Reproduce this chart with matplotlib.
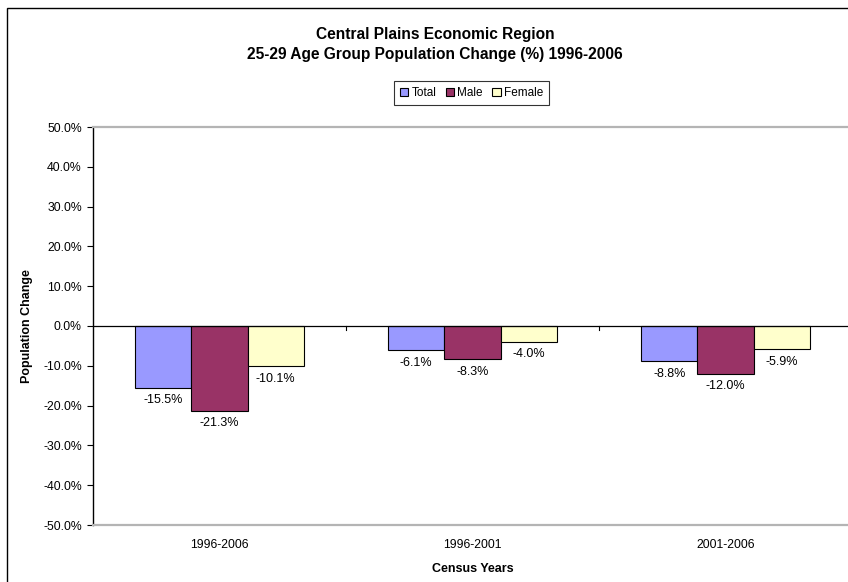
import matplotlib
matplotlib.use("Agg")
import matplotlib.pyplot as plt
import numpy as np
from matplotlib.patches import Rectangle

plt.rcParams['font.family'] = ['Liberation Sans', 'DejaVu Sans']

# data
categories = ['1996-2006', '1996-2001', '2001-2006']
total = [-15.5, -6.1, -8.8]
male = [-21.3, -8.3, -12.0]
female = [-10.1, -4.0, -5.9]
series_names = ['Total', 'Male', 'Female']
series_colors = ['#9999FF', '#993366', '#FFFFCC']
y_ticks = [-50, -40, -30, -20, -10, 0, 10, 20, 30, 40, 50]

W, H = 848, 582
fig = plt.figure(figsize=(W / 100, H / 100), dpi=100)

# chart frame (right / bottom run off the picture)
fig.patches.append(Rectangle((7 / W, -0.1), 1.2, 1.1 - 8 / H, transform=fig.transFigure,
                             fill=False, edgecolor='black', linewidth=1.0))

# plot area, right edge is a bit past the picture
ax = fig.add_axes([93 / W, 57 / H, 759 / W, 398 / H])

x = np.arange(len(categories))
bw = 1 / (3 + 1.5)  # excel gap width 150%
bars = []
for i, (vals, name, col) in enumerate(zip([total, male, female], series_names, series_colors)):
    b = ax.bar(x + (i - 1) * bw, vals, bw, color=col, edgecolor='black', linewidth=0.8, label=name)
    bars.append(b)
    for xi, v in zip(x + (i - 1) * bw, vals):
        ax.annotate(f'{v:.1f}%', (xi, v), xytext=(0, -9), textcoords='offset points',
                    ha='center', va='center', fontsize=9)

ax.set_xlim(-0.5, len(categories) - 0.5)
ax.set_ylim(-50, 50)
ax.set_yticks(y_ticks)
ax.set_yticklabels([f'{t:.1f}%' for t in y_ticks], fontsize=8.8)
ax.tick_params(axis='y', direction='out', length=4, width=0.8, pad=4, color='black')
ax.set_xticks(x)
ax.set_xticklabels(categories, fontsize=8.8)
ax.tick_params(axis='x', length=0, pad=10)

ax.axhline(0, color='black', linewidth=0.9, zorder=3)
# category boundary ticks on the zero line
for b in np.arange(1, len(categories)):
    ax.plot([b - 0.5, b - 0.5], [0, -1.0], color='black', linewidth=0.8)

ax.spines['left'].set_color('black')
ax.spines['left'].set_linewidth(1.0)
for s in ['top', 'bottom', 'right']:
    ax.spines[s].set_color('#b4b4b4')
    ax.spines[s].set_linewidth(1.6)

ax.set_xlabel('Census Years', fontsize=9, fontweight='bold', labelpad=9)
fig.text(27 / W, 1 - 326 / H, 'Population Change', rotation=90, ha='center', va='center',
         fontsize=9, fontweight='bold')

fig.text(435 / W, 1 - 35 / H, 'Central Plains Economic Region', ha='center', va='center',
         fontsize=11.2, fontweight='bold')
fig.text(435 / W, 1 - 55 / H, '25-29 Age Group Population Change (%) 1996-2006', ha='center',
         va='center', fontsize=11.2, fontweight='bold')

leg = fig.legend(handles=bars, labels=series_names, loc='center', bbox_to_anchor=(471.5 / W, 1 - 93 / H),
                 ncol=3, fontsize=8.5, frameon=True, fancybox=False, handlelength=0.7, handleheight=0.7,
                 handletextpad=0.3, columnspacing=0.8, borderpad=0.5, borderaxespad=0)
leg.get_frame().set_edgecolor('black')
leg.get_frame().set_linewidth(0.8)

fig.savefig('out.png', dpi=100)
